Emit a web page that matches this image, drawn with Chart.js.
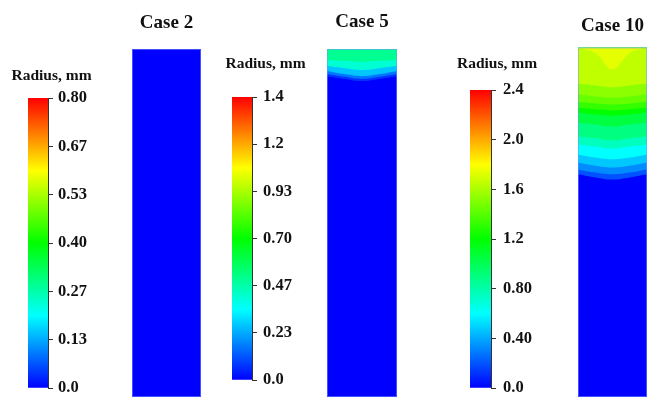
<!DOCTYPE html>
<html>
<head>
<meta charset="utf-8">
<script src="https://cdn.jsdelivr.net/npm/chart.js@4.4.1/dist/chart.umd.min.js"></script>
<style>
  html, body { margin: 0; padding: 0; background: #fff; }
  #fig { position: relative; width: 648px; height: 397px; overflow: hidden; background: #fff; }
  #fig canvas { position: absolute; }
</style>
</head>
<body>
<div id="fig"></div>
<script>
// ---- data ---------------------------------------------------------------
const caseNames = ['Case 2', 'Case 5', 'Case 10'];
const radiusMax = [0.8, 1.4, 2.4];              // colour-scale range of each case, mm

const case2Ticks  = [0, 0.1333, 0.2667, 0.40, 0.5333, 0.6667, 0.80];
const case2Labels = ['0.0', '0.13', '0.27', '0.40', '0.53', '0.67', '0.80'];
const case5Ticks  = [0, 0.2333, 0.4667, 0.70, 0.9333, 1.1667, 1.4];
const case5Labels = ['0.0', '0.23', '0.47', '0.70', '0.93', '1.2', '1.4'];
const case10Ticks  = [0, 0.4, 0.8, 1.2, 1.6, 2.0, 2.4];
const case10Labels = ['0.0', '0.40', '0.80', '1.2', '1.6', '2.0', '2.4'];

// Across-width stations (0 = left wall, 1 = right wall)
const widthStations = [0, 0.25, 0.5, 0.75, 1];

// Radius of each contour band (mm) and the depth (% of shown length)
// of the band's lower boundary at every width station.
const case2Radius = [0.0];
const case2Depth  = [[100, 100, 100, 100, 100]];

const case5Radius = [0.50, 0.41, 0.27, 0.16, 0.07, 0.0];
const case5Depth  = [
  [3.2, 3.4, 3.7, 3.4, 3.2],
  [4.9, 5.5, 6.0, 5.5, 4.9],
  [6.3, 7.2, 7.8, 7.2, 6.3],
  [7.2, 8.0, 8.6, 8.0, 7.2],
  [7.8, 8.6, 9.2, 8.6, 7.8],
  [100, 100, 100, 100, 100]
];

const case10Radius = [1.74, 1.65, 1.53, 1.44, 1.32, 1.20, 1.05, 0.90, 0.75, 0.60, 0.47, 0.33, 0.19, 0.0];
const case10Depth  = [
  [0.0, 1.6, 6.3, 1.6, 0.0],
  [10.3, 10.9, 11.4, 10.9, 10.3],
  [13.4, 14.0, 14.3, 14.0, 13.4],
  [15.5, 16.0, 16.3, 16.0, 15.5],
  [17.2, 17.7, 18.0, 17.7, 17.2],
  [18.6, 19.2, 19.5, 19.2, 18.6],
  [21.5, 22.0, 22.6, 22.0, 21.5],
  [25.5, 26.0, 26.6, 26.0, 25.5],
  [27.8, 28.3, 28.9, 28.3, 27.8],
  [30.6, 31.5, 32.0, 31.5, 30.6],
  [32.9, 33.8, 34.3, 33.8, 32.9],
  [34.9, 35.8, 36.3, 35.8, 34.9],
  [36.3, 37.2, 37.8, 37.2, 36.3],
  [100, 100, 100, 100, 100]
];

// ---- layout -------------------------------------------------------------
const panels = [
  { field: { x: 132, y: 49,   w: 69, titleY: 23   },
    bar:   { left: 0,   titleX: 51.5, x: 28,  bw: 20, top: 98, bottom: 388, titleY: 75.5, gap: 5 } },
  { field: { x: 327, y: 49,   w: 70, titleY: 22.5 },
    bar:   { left: 200, titleX: 265.5, x: 232, bw: 20, top: 97, bottom: 380, titleY: 64, gap: 6 } },
  { field: { x: 578, y: 47.5, w: 69, titleY: 26.5 },
    bar:   { left: 440, titleX: 497, x: 470, bw: 21, top: 90, bottom: 388, titleY: 64, gap: 7 } }
];

const SERIF = "'Liberation Serif', 'Times New Roman', serif";
const TEXT = '#111';

// Rainbow colour scale: blue -> cyan -> green -> yellow -> red
const RAINBOW = [[0, 0, 255], [0, 255, 255], [0, 255, 0], [255, 255, 0], [255, 0, 0]];
const rgb = c => `rgb(${c.map(Math.round).join(',')})`;
function rainbow(f) {
  f = Math.min(1, Math.max(0, f));
  const s = f * 4, i = Math.min(3, Math.floor(s)), t = s - i;
  const a = RAINBOW[i], b = RAINBOW[i + 1];
  return rgb(a.map((v, k) => v + (b[k] - v) * t));
}

const fig = document.getElementById('fig');
function makeCanvas(left, top, w, h) {
  const c = document.createElement('canvas');
  c.width = w; c.height = h;
  c.style.left = left + 'px'; c.style.top = top + 'px';
  c.style.width = w + 'px'; c.style.height = h + 'px';
  fig.appendChild(c);
  return c;
}

// thin light outline round each field
const outline = {
  id: 'outline',
  afterDatasetsDraw(chart) {
    const a = chart.chartArea, ctx = chart.ctx;
    ctx.save();
    ctx.strokeStyle = 'rgba(120,150,255,0.55)';
    ctx.lineWidth = 1;
    ctx.strokeRect(a.left + 0.5, a.top + 0.5, a.right - a.left - 1, a.bottom - a.top - 1);
    ctx.restore();
  }
};

function drawField(p, name, radii, depths, max) {
  const pad = 12, H = 397, fs = 19, lh = fs * 1.2;
  const cv = makeCanvas(p.x - pad, 0, p.w + 2 * pad, H);
  new Chart(cv, {
    type: 'line',
    data: {
      datasets: radii.map((r, i) => ({
        label: r.toFixed(2),
        data: widthStations.map((x, j) => ({ x, y: depths[i][j] })),
        backgroundColor: rainbow(r / max),
        borderColor: 'transparent',
        borderWidth: 0,
        pointRadius: 0,
        tension: 0.4,
        fill: { value: 0 }
      }))
    },
    options: {
      responsive: false,
      animation: false,
      events: [],
      layout: { padding: { left: pad, right: pad, top: 0, bottom: 0 } },
      scales: {
        x: { type: 'linear', min: 0, max: 1, display: false },
        y: { type: 'linear', min: 0, max: 100, reverse: true, display: false }
      },
      plugins: {
        legend: { display: false },
        tooltip: { enabled: false },
        title: {
          display: true, text: name, color: TEXT,
          font: { family: SERIF, size: fs, weight: 'bold' },
          padding: { top: p.titleY - lh / 2, bottom: p.y - p.titleY - lh / 2 }
        }
      }
    },
    plugins: [outline]
  });
}

function drawColorbar(b, max, ticks, labels) {
  const H = 410, fs = 15.5, lh = fs * 1.2;
  const W = 2 * (b.titleX - b.left);           // title is centred on the canvas
  const cv = makeCanvas(b.left, 0, W, H);
  const titleFont = { family: SERIF, size: fs, weight: 'bold' };
  const tickFont = { family: SERIF, size: 16.5, weight: 'bold' };
  new Chart(cv, {
    type: 'bar',
    data: {
      labels: [''],
      datasets: [{
        data: [max],
        yAxisID: 'y',
        borderWidth: 0,
        barPercentage: 1,
        categoryPercentage: 1,
        backgroundColor: ctx => {
          const a = ctx.chart.chartArea;
          if (!a) return rgb(RAINBOW[0]);
          const g = ctx.chart.ctx.createLinearGradient(0, a.bottom, 0, a.top);
          RAINBOW.forEach((c, i) => g.addColorStop(i / 4, rgb(c)));
          return g;
        }
      }]
    },
    options: {
      responsive: false,
      animation: false,
      events: [],
      layout: { padding: { left: 0, right: 0, top: 0, bottom: H - b.bottom } },
      scales: {
        x: { display: false },
        // empty spacer axis on the left keeps the bar off the canvas edge
        spacer: {
          type: 'linear', position: 'left', display: true,
          grid: { display: false, drawTicks: false }, border: { display: false },
          ticks: { display: false },
          afterFit: s => { s.width = b.x - b.left; }
        },
        y: {
          position: 'right', min: 0, max,
          afterBuildTicks: s => { s.ticks = ticks.map(v => ({ value: v })); },
          afterFit: s => { s.width = W - (b.x + b.bw - b.left); },
          ticks: { autoSkip: false, padding: b.gap, color: TEXT, font: tickFont, callback: (v, i) => labels[i] },
          grid: { drawOnChartArea: false, drawTicks: true, tickLength: 5, color: '#333', lineWidth: 1 },
          border: { display: true, color: '#333', width: 1 }
        }
      },
      plugins: {
        legend: { display: false },
        tooltip: { enabled: false },
        title: {
          display: true, text: 'Radius, mm', color: TEXT, font: titleFont,
          padding: { top: b.titleY - lh / 2, bottom: b.top - b.titleY - lh / 2 }
        }
      }
    }
  });
}

const allRadius = [case2Radius, case5Radius, case10Radius];
const allDepth  = [case2Depth, case5Depth, case10Depth];
const allTicks  = [case2Ticks, case5Ticks, case10Ticks];
const allLabels = [case2Labels, case5Labels, case10Labels];

panels.forEach((p, i) => {
  drawColorbar(p.bar, radiusMax[i], allTicks[i], allLabels[i]);
  drawField(p.field, caseNames[i], allRadius[i], allDepth[i], radiusMax[i]);
});
</script>
</body>
</html>
